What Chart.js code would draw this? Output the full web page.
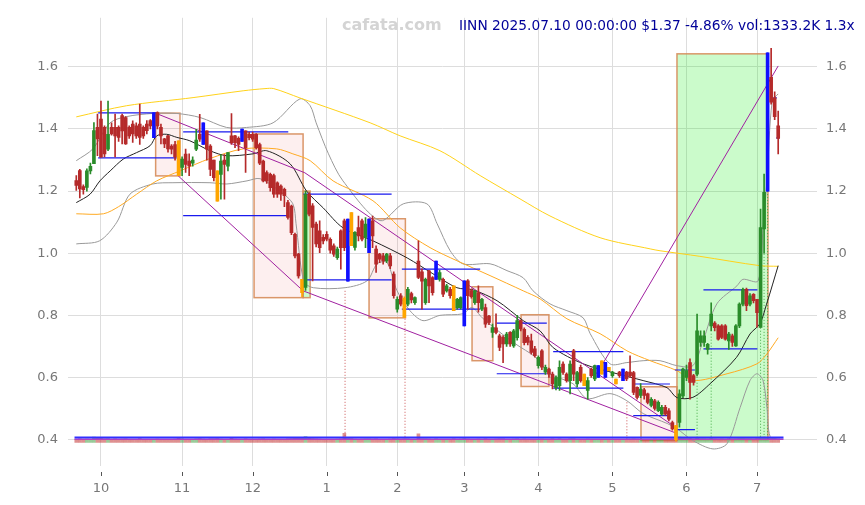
<!DOCTYPE html>
<html>
<head>
<meta charset="utf-8">
<script src="https://cdn.jsdelivr.net/npm/chart.js@4.4.1/dist/chart.umd.min.js"></script>
<style>
  html, body { margin: 0; padding: 0; background: #fff; }
  #wrap { width: 865px; height: 505px; position: relative; }
</style>
</head>
<body>
<div id="wrap"><canvas id="chart"></canvas></div>
<script>
// x axis = trading day index (0 = 2024-09-20, 199 = 2025-07-10)
const monthTicks = [7, 30, 50, 71, 91, 110, 131, 152, 173, 193];
const monthLabels = ['10', '11', '12', '1', '2', '3', '4', '5', '6', '7'];
const yTicks = [0.4, 0.6, 0.8, 1.0, 1.2, 1.4, 1.6];
const titleText = 'IINN 2025.07.10 00:00:00 $1.37 -4.86% vol:1333.2K 1.3x';

const opens = [
  1.234,1.266,1.215,1.212,1.265,1.288,1.405,1.432,1.405,1.335,
  1.405,1.405,1.405,1.443,1.437,1.405,1.416,1.410,1.416,1.405,
  1.416,1.427,1.410,1.453,1.405,1.368,1.378,1.345,1.350,1.362,
  1.276,1.319,1.297,1.290,1.335,1.383,1.400,1.394,1.345,1.300,
  1.265,1.254,1.300,1.280,1.378,1.378,1.370,1.390,1.394,1.383,
  1.383,1.383,1.350,1.297,1.260,1.254,1.250,1.227,1.216,1.206,
  1.163,1.152,1.061,0.997,0.916,0.890,1.190,1.153,1.094,1.072,
  1.051,1.061,1.045,1.024,0.986,1.072,1.104,1.050,1.131,1.019,
  1.083,1.104,1.051,1.100,1.104,1.013,0.997,0.992,0.975,0.992,
  0.933,0.820,0.863,0.855,0.836,0.870,0.841,0.975,0.940,0.841,
  0.943,0.922,0.940,0.916,0.916,0.879,0.884,0.895,0.825,0.825,
  0.850,0.911,0.880,0.841,0.873,0.820,0.825,0.798,0.745,0.760,
  0.734,0.729,0.708,0.745,0.702,0.728,0.783,0.755,0.729,0.718,
  0.692,0.638,0.686,0.617,0.627,0.611,0.568,0.574,0.643,0.611,
  0.590,0.686,0.579,0.633,0.611,0.558,0.627,0.595,0.620,0.654,
  0.625,0.633,0.606,0.595,0.617,0.610,0.617,0.617,0.616,0.568,
  0.542,0.560,0.547,0.510,0.525,0.493,0.482,0.504,0.493,0.455,
  0.445,0.455,0.541,0.600,0.648,0.606,0.611,0.713,0.713,0.690,
  0.766,0.775,0.766,0.766,0.766,0.718,0.734,0.702,0.766,0.836,
  0.884,0.836,0.868,0.852,0.761,1.078,1.230,1.566,1.500,1.410
];
const closes = [
  1.218,1.207,1.205,1.265,1.280,1.395,1.368,1.309,1.320,1.383,
  1.384,1.378,1.373,1.394,1.352,1.378,1.384,1.378,1.373,1.378,
  1.395,1.410,1.420,1.410,1.378,1.352,1.336,1.335,1.310,1.250,
  1.303,1.286,1.281,1.300,1.364,1.367,1.390,1.335,1.270,1.243,
  1.168,1.297,1.286,1.324,1.356,1.356,1.350,1.390,1.340,1.372,
  1.367,1.340,1.290,1.233,1.233,1.211,1.190,1.190,1.190,1.185,
  1.115,1.066,0.991,0.927,0.873,1.190,1.126,1.083,1.030,1.018,
  1.040,1.045,1.010,0.997,1.013,1.018,1.018,1.050,1.024,1.067,
  1.056,1.045,1.094,1.100,1.056,0.965,0.981,0.975,0.997,0.959,
  0.863,0.852,0.836,0.793,0.884,0.850,0.857,0.922,0.910,0.916,
  0.895,0.873,0.950,0.938,0.868,0.895,0.863,0.815,0.852,0.857,
  0.850,0.863,0.860,0.879,0.841,0.852,0.772,0.777,0.761,0.745,
  0.697,0.708,0.740,0.708,0.750,0.783,0.756,0.712,0.713,0.681,
  0.670,0.665,0.633,0.633,0.611,0.579,0.600,0.633,0.616,0.590,
  0.643,0.611,0.616,0.590,0.574,0.590,0.606,0.638,0.620,0.611,
  0.625,0.622,0.617,0.579,0.606,0.610,0.595,0.606,0.552,0.536,
  0.563,0.542,0.520,0.530,0.500,0.520,0.504,0.482,0.466,0.434,
  0.400,0.547,0.627,0.622,0.584,0.584,0.750,0.734,0.734,0.707,
  0.804,0.760,0.723,0.729,0.723,0.740,0.713,0.766,0.836,0.884,
  0.831,0.863,0.847,0.809,1.083,1.196,1.550,1.486,1.440,1.370
];
const highs = [
  1.250,1.270,1.220,1.272,1.290,1.421,1.448,1.490,1.410,1.490,
  1.420,1.448,1.410,1.448,1.440,1.410,1.426,1.420,1.480,1.410,
  1.427,1.430,1.452,1.455,1.416,1.370,1.380,1.350,1.360,1.362,
  1.310,1.335,1.320,1.310,1.399,1.447,1.420,1.394,1.350,1.300,
  1.265,1.318,1.318,1.324,1.450,1.380,1.375,1.400,1.394,1.390,
  1.390,1.385,1.355,1.300,1.265,1.258,1.255,1.230,1.220,1.210,
  1.170,1.155,1.065,1.000,0.916,1.200,1.195,1.160,1.100,1.104,
  1.060,1.070,1.050,1.030,1.020,1.075,1.110,1.110,1.131,1.070,
  1.120,1.110,1.115,1.110,1.120,1.024,1.000,1.000,1.000,1.000,
  0.940,0.860,0.870,0.860,0.890,0.875,0.860,1.040,0.950,0.920,
  0.945,0.925,0.975,0.945,0.920,0.900,0.890,0.895,0.855,0.860,
  0.911,0.915,0.885,0.880,0.895,0.855,0.836,0.800,0.772,0.805,
  0.740,0.735,0.745,0.748,0.755,0.800,0.785,0.760,0.735,0.740,
  0.700,0.670,0.690,0.640,0.630,0.617,0.605,0.654,0.650,0.615,
  0.654,0.691,0.620,0.640,0.611,0.600,0.630,0.640,0.638,0.654,
  0.649,0.633,0.620,0.595,0.620,0.627,0.620,0.670,0.620,0.570,
  0.580,0.565,0.550,0.535,0.530,0.525,0.510,0.510,0.500,0.460,
  0.445,0.560,0.630,0.640,0.660,0.610,0.804,0.750,0.750,0.710,
  0.840,0.780,0.770,0.770,0.770,0.745,0.740,0.770,0.840,0.888,
  0.888,0.870,0.870,0.852,1.142,1.255,1.645,1.660,1.520,1.458
];
const lows = [
  1.202,1.178,1.190,1.200,1.255,1.288,1.314,1.309,1.310,1.330,
  1.380,1.310,1.360,1.352,1.350,1.370,1.357,1.370,1.350,1.370,
  1.384,1.400,1.372,1.400,1.352,1.340,1.325,1.320,1.300,1.250,
  1.250,1.260,1.250,1.280,1.330,1.360,1.350,1.300,1.250,1.233,
  1.168,1.174,1.174,1.265,1.350,1.340,1.330,1.360,1.260,1.365,
  1.360,1.335,1.285,1.230,1.225,1.200,1.180,1.180,1.170,1.150,
  1.110,1.060,0.985,0.920,0.860,0.880,1.120,0.911,1.020,1.002,
  1.030,1.040,1.000,0.990,0.980,0.949,1.008,0.910,1.024,1.010,
  1.040,1.040,1.018,1.002,1.018,0.938,0.970,0.965,0.970,0.950,
  0.855,0.810,0.830,0.793,0.830,0.840,0.835,0.918,0.820,0.835,
  0.841,0.865,0.916,0.910,0.860,0.875,0.855,0.815,0.820,0.820,
  0.766,0.820,0.855,0.835,0.810,0.815,0.761,0.770,0.729,0.740,
  0.686,0.648,0.700,0.700,0.697,0.720,0.750,0.705,0.705,0.675,
  0.665,0.630,0.625,0.610,0.600,0.563,0.560,0.558,0.610,0.585,
  0.547,0.590,0.570,0.585,0.574,0.530,0.600,0.590,0.600,0.611,
  0.600,0.622,0.600,0.579,0.600,0.590,0.590,0.600,0.545,0.530,
  0.535,0.530,0.515,0.505,0.495,0.490,0.478,0.478,0.460,0.430,
  0.395,0.440,0.535,0.590,0.530,0.575,0.605,0.700,0.700,0.675,
  0.750,0.750,0.720,0.725,0.720,0.690,0.700,0.700,0.760,0.830,
  0.815,0.830,0.840,0.762,0.761,1.000,1.200,1.480,1.430,1.320
];
// volume in thousands of shares
const vols = [
  1150,1300,980,1200,1050,1900,1500,1700,1250,1400,
  1100,1250,980,1200,1300,1050,1150,1000,1350,1100,
  1050,980,1150,1200,1100,1000,1050,1150,1200,1500,
  1300,1150,1050,1000,1250,1350,1200,1150,1300,1250,
  1400,1200,1100,1150,1450,1200,1100,1150,1250,1050,
  1100,1150,1200,1250,1150,1100,1200,1050,1100,1150,
  1300,1400,1500,1450,1600,2100,1500,1400,1300,1200,
  1100,1050,1150,1100,1200,1250,3200,1500,1400,1200,
  1150,1200,1250,1300,1200,1250,1100,1050,1100,1200,
  1350,1250,1200,1300,1250,1100,1150,3000,1300,1300,
  1200,1150,1250,1100,1150,1050,1100,1300,1150,1200,
  1350,1200,1100,1150,1200,1150,1250,1100,1150,1200,
  1250,1300,1150,1100,1200,1300,1150,1200,1100,1150,
  1100,1150,1200,1050,1100,1250,1150,1300,1150,1100,
  1300,1250,1150,1100,1150,1200,1100,1150,1050,1100,
  1050,1100,1150,1100,1050,1100,1150,1200,1300,1200,
  1150,1100,1150,1100,1200,1150,1100,1150,1200,1300,
  1400,1900,1700,1400,1350,1200,1600,1300,1250,1200,
  1350,1200,1150,1200,1150,1250,1200,1300,1350,1400,
  1300,1250,1200,1350,1900,1900,1800,1500,1400,1333
];
const orangeBars = [29, 40, 64, 78, 93, 107, 144, 149, 151, 153, 170];
const blueBars = [22, 36, 47, 77, 83, 102, 110, 148, 150, 155, 196];

// overlay lines: [day index, price]
const maShort = [[0,1.163],[3.9,1.19],[6.7,1.233],[9.6,1.265],[13.3,1.303],[17.1,1.324],[20.9,1.346],[22.8,1.378],[25.6,1.383],[28.5,1.373],[32.2,1.362],[37.9,1.33],[42.6,1.314],[50.1,1.32],[54,1.33],[60.6,1.288],[65.3,1.2],[70,1.146],[75.6,1.082],[84.1,1.04],[93.8,0.985],[101.1,0.934],[107.9,0.889],[112.5,0.882],[119.3,0.847],[126.7,0.783],[131.5,0.75],[135.2,0.696],[143.7,0.644],[153.3,0.612],[160.7,0.59],[167.5,0.567],[170.3,0.535],[174.8,0.536],[179.7,0.58],[187.2,0.665],[191,0.74],[193.8,0.773],[195.7,0.836],[199,0.96]];
const maMid = [[0,1.127],[7.7,1.127],[12,1.15],[17.1,1.19],[22.8,1.233],[29.4,1.265],[37.9,1.305],[47.3,1.336],[56.8,1.336],[61.4,1.32],[66.3,1.298],[72.8,1.233],[84.1,1.169],[91.8,1.082],[100.3,1.018],[107.9,0.976],[117.3,0.928],[126.7,0.879],[131.5,0.853],[139.1,0.789],[148.5,0.741],[156.1,0.686],[162.7,0.654],[170.3,0.622],[174.8,0.59],[184.5,0.612],[193,0.644],[195.8,0.676],[199,0.728]];
const maLong = [[0,1.439],[14.3,1.475],[33.1,1.501],[47.3,1.523],[53.5,1.53],[56,1.53],[63.4,1.50],[83.3,1.42],[91.8,1.378],[103.1,1.33],[114.5,1.25],[125.8,1.175],[134.3,1.12],[148.5,1.05],[162.7,1.014],[165.5,1.008],[176.8,0.99],[193.8,0.96],[199,0.958]];
const bandUpper = [[0,1.298],[4.7,1.336],[9.6,1.42],[14.3,1.44],[21.7,1.45],[28.5,1.45],[35.1,1.437],[42.6,1.405],[48.3,1.405],[55.8,1.42],[63.4,1.497],[66.3,1.475],[68,1.42],[71.5,1.32],[75.6,1.233],[86.1,1.105],[92.7,1.159],[99.4,1.159],[102.3,1.095],[106,1.008],[109.6,0.966],[117.3,0.966],[122.1,0.944],[126.7,0.921],[129.5,0.879],[134.3,0.837],[139.1,0.815],[143.7,0.792],[145.7,0.741],[151.3,0.644],[156.1,0.648],[160.7,0.654],[165.5,0.654],[170.3,0.638],[174.8,0.638],[177.7,0.718],[181.6,0.837],[187.3,0.895],[189,0.916],[193.3,0.911],[194.7,1.083],[195.8,1.233],[197.3,1.49],[199,1.513]];
const bandLower = [[0,1.03],[6.6,1.04],[11.5,1.1],[15.2,1.19],[21.7,1.223],[27.4,1.227],[37.9,1.227],[42.7,1.223],[48.4,1.233],[52.1,1.24],[57.7,1.2],[61.4,1.159],[62.3,1.095],[64.5,0.91],[67.2,0.889],[76.2,0.889],[82.4,0.911],[85.3,0.966],[88.1,0.97],[90.9,0.88],[94.6,0.815],[98.3,0.783],[103.1,0.80],[109.6,0.805],[112.2,0.825],[115.1,0.792],[119.6,0.75],[124.4,0.709],[130.2,0.665],[134.3,0.612],[140.8,0.58],[144.8,0.532],[151.3,0.548],[156.1,0.525],[160.7,0.484],[167.5,0.452],[170.3,0.435],[174.8,0.397],[180.5,0.37],[184.5,0.387],[188.2,0.503],[191,0.59],[193,0.612],[194.7,0.59],[195.8,0.503],[196.7,0.41],[199,0.40]];

// trend lines [from, to]
const purpleLines = [
  [[22.9,1.449],[64.8,1.259]],
  [[64.8,1.259],[169.2,0.445]],
  [[147.6,0.612],[199,1.603]],
  [[28.9,1.249],[64.3,0.879]],
  [[64.3,0.879],[169.8,0.422]]
];
// horizontal levels [fromDay, toDay, price]
const blueLevels = [
  [6.2,22.8,1.452],[6.2,28.5,1.307],
  [30.3,60.1,1.391],[30.3,60.1,1.121],
  [64.4,89.4,1.190],[64.4,89.4,0.914],
  [92.3,114.5,0.949],[92.3,114.5,0.820],
  [119.2,133.4,0.775],[119.2,133.4,0.612],
  [135.2,155.1,0.683],[135.2,155.1,0.566],
  [157.9,168.3,0.579],[157.9,168.3,0.477],
  [169.7,175.4,0.624],[169.7,175.4,0.432],
  [177.8,193.1,0.882],[177.8,193.1,0.692],
  [197.6,198.6,1.500],[198.4,199.4,1.371]
];
// dotted markers [day, top price]
const redMarks = [[76.2,0.879],[93.2,0.789],[156.1,0.52]];
const greenMarks = [[176,0.612],[180,0.741],[194,0.934],[195,0.998],[196,1.2]];
// shaded zones [fromDay, toDay, low, high]
const pinkBoxes = [
  [22.5,29.4,1.249,1.451],
  [50.4,64.3,0.857,1.384],
  [83,93.3,0.792,1.111],
  [112.2,118.1,0.654,0.892],
  [126.1,134,0.571,0.802],
  [160.1,170.3,0.397,0.570]
];
const greenBoxes = [
  [64.3,66.3,0.857,1.2],
  [170.3,196.1,0.4,1.642]
];

const UP = '#2a8c2a', DOWN = '#b52a2a', ORANGE = '#ffa500', BLUE = '#1010ff';
const idx = opens.map((_, i) => i);

function candleColor(i) {
  if (blueBars.includes(i)) return BLUE;
  if (orangeBars.includes(i)) return ORANGE;
  return closes[i] >= opens[i] ? UP : DOWN;
}
const colors = idx.map(candleColor);
const bodyData = idx.map(i => blueBars.includes(i)
  ? { x: i, y: [lows[i], highs[i]] }
  : { x: i, y: [opens[i], closes[i]] });
const wickData = idx.map(i => ({ x: i, y: [lows[i], highs[i]] }));
const volData = idx.map(i => ({ x: i, y: vols[i] }));
const volColors = idx.map(i => closes[i] >= opens[i] ? 'rgba(70,160,70,0.55)' : 'rgba(200,70,70,0.6)');

const pts = arr => arr.map(p => ({ x: p[0], y: p[1] }));

// join several segments into one dataset, broken by null points
function segments(list) {
  const out = [];
  list.forEach(seg => {
    seg.forEach(p => out.push({ x: p[0], y: p[1] }));
    out.push({ x: seg[seg.length - 1][0], y: null });
  });
  return out;
}

function lineDs(data, color, width, order, dash, tension) {
  return {
    type: 'line',
    data: data,
    borderColor: color,
    borderWidth: width,
    borderDash: dash || [],
    pointRadius: 0,
    fill: false,
    tension: tension || 0,
    spanGaps: false,
    order: order,
    yAxisID: 'y'
  };
}

const boxPlugin = {
  id: 'boxes',
  beforeDatasetsDraw(chart) {
    const { ctx, scales: { x, y } } = chart;
    ctx.save();
    const draw = (b, fill) => {
      const x0 = x.getPixelForValue(b[0]), x1 = x.getPixelForValue(b[1]);
      const y0 = y.getPixelForValue(b[3]), y1 = y.getPixelForValue(b[2]);
      ctx.fillStyle = fill;
      ctx.fillRect(x0, y0, x1 - x0, y1 - y0);
      ctx.strokeStyle = 'rgba(214,140,90,0.9)';
      ctx.lineWidth = 1.5;
      ctx.strokeRect(x0, y0, x1 - x0, y1 - y0);
    };
    pinkBoxes.forEach(b => draw(b, 'rgba(235,50,50,0.08)'));
    greenBoxes.forEach(b => draw(b, 'rgba(20,235,20,0.22)'));
    ctx.restore();
  }
};

const textPlugin = {
  id: 'headline',
  afterDraw(chart) {
    const { ctx, chartArea, scales: { x } } = chart;
    ctx.save();
    // little tick marks under the plot
    ctx.strokeStyle = '#555';
    ctx.lineWidth = 1;
    monthTicks.forEach(v => {
      const px = Math.round(x.getPixelForValue(v)) + 0.5;
      ctx.beginPath();
      ctx.moveTo(px, chartArea.bottom + 6);
      ctx.lineTo(px, chartArea.bottom + 10);
      ctx.stroke();
    });
    ctx.textBaseline = 'middle';
    ctx.font = 'bold 16px "DejaVu Sans"';
    ctx.fillStyle = '#d4d4d4';
    ctx.fillText('cafata.com', 342, 26);
    ctx.font = '13.75px "DejaVu Sans"';
    ctx.fillStyle = '#000099';
    ctx.fillText(titleText, 459, 26);
    ctx.restore();
  }
};

const ctx = document.getElementById('chart').getContext('2d');
new Chart(ctx, {
  type: 'bar',
  data: {
    datasets: [
      {
        data: bodyData, backgroundColor: colors, barThickness: 3, minBarLength: 1,
        grouped: false, order: 1, yAxisID: 'y'
      },
      {
        data: wickData, backgroundColor: colors, barThickness: 1,
        grouped: false, order: 2, yAxisID: 'y'
      },
      lineDs(segments(purpleLines), '#a020a0', 1, 5),
      lineDs(segments(blueLevels.map(b => [[b[0], b[2]], [b[1], b[2]]])), '#1a1aee', 1.2, 4),
      lineDs(segments(redMarks.map(m => [[m[0], m[1]], [m[0], 0.4]])), '#cc5555', 1, 9, [1, 2]),
      lineDs(segments(greenMarks.map(m => [[m[0], m[1]], [m[0], 0.4]])), '#44aa44', 1, 9, [1, 2]),
      lineDs(pts(maShort), '#222222', 1, 6, null, 0.3),
      lineDs(pts(maMid), '#ffaa22', 1, 7, null, 0.3),
      lineDs(pts(maLong), '#ffd21a', 1, 7, null, 0.3),
      lineDs(pts(bandUpper), '#999999', 1, 8, null, 0.3),
      lineDs(pts(bandLower), '#999999', 1, 8, null, 0.3),
      lineDs(pts([[-0.5, 0.4065], [200.5, 0.4065]]), '#3030ff', 2, 3),
      lineDs(pts([[-0.5, 0.4015], [200.5, 0.4015]]), '#b040c0', 1.5, 3),
      {
        data: volData, backgroundColor: volColors, barThickness: 3,
        grouped: false, order: 10, yAxisID: 'yv'
      }
    ]
  },
  options: {
    responsive: true,
    maintainAspectRatio: false,
    animation: false,
    devicePixelRatio: 1,
    layout: { autoPadding: false, padding: { top: 9, left: 0, right: 0, bottom: 0 } },
    plugins: {
      legend: { display: false },
      tooltip: { enabled: false }
    },
    scales: {
      x: {
        type: 'linear',
        offset: false,
        min: -2.35,
        max: 210,
        afterBuildTicks: s => { s.ticks = monthTicks.map(v => ({ value: v })); },
        afterFit: s => { s.height = 39; },
        grid: { color: '#dddddd', drawTicks: false, offset: false },
        border: { display: false },
        ticks: {
          autoSkip: false, maxRotation: 0, padding: 15,
          color: '#777777', font: { family: 'DejaVu Sans', size: 13 },
          callback: v => monthLabels[monthTicks.indexOf(v)]
        }
      },
      y: {
        position: 'left',
        min: 0.315,
        max: 1.758,
        afterBuildTicks: s => { s.ticks = yTicks.map(v => ({ value: v })); },
        afterFit: s => { s.width = 68; },
        grid: { color: '#dddddd', drawTicks: false },
        border: { display: false },
        ticks: {
          padding: 10, color: '#777777', font: { family: 'DejaVu Sans', size: 13 },
          callback: v => v.toFixed(1)
        }
      },
      y2: {
        position: 'right',
        min: 0.315,
        max: 1.758,
        afterBuildTicks: s => { s.ticks = yTicks.map(v => ({ value: v })); },
        afterFit: s => { s.width = 48; },
        grid: { display: false, drawTicks: false },
        border: { display: false },
        ticks: {
          padding: 9, color: '#777777', font: { family: 'DejaVu Sans', size: 13 },
          callback: v => v.toFixed(1)
        }
      },
      yv: {
        display: false,
        min: -8225,
        max: 148750
      }
    }
  },
  plugins: [boxPlugin, textPlugin]
});
</script>
</body>
</html>
